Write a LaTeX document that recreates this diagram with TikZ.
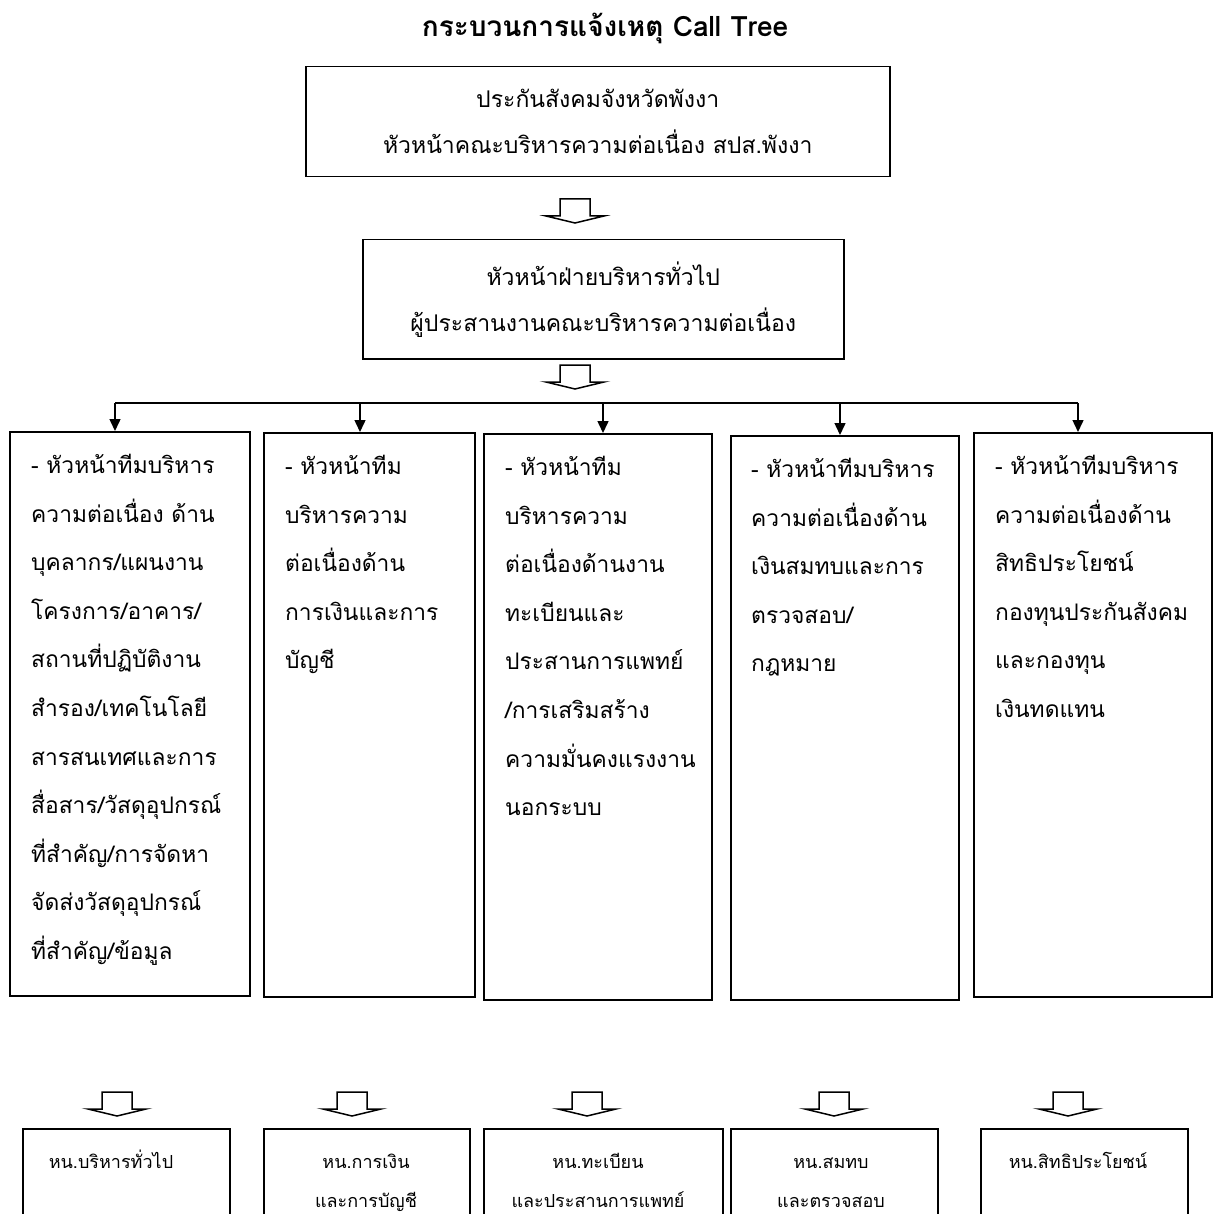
\documentclass[tikz,border=0pt]{standalone}
\usepackage{fontspec}
\newfontfamily\thaifont[Script=Thai]{Loma}
\usetikzlibrary{positioning,arrows.meta}

\tikzset{
  hollowdown/.pic = {
    \draw[line width=1.5pt, line join=miter]
      (-15,0) -- (15,0) -- (15,17) -- (29,17) -- (0,24) -- (-29,17) -- (-15,17) -- cycle;
  }
}

\begin{document}
\begin{tikzpicture}[x=1pt, y=-1pt,
  every node/.style = {font=\thaifont},
  frame/.style = {draw, line width=1.5pt, anchor=north west, inner sep=0pt},
  headtext/.style = {align=center, font=\thaifont\fontsize{23}{46}\selectfont},
  teamtext/.style = {align=left, inner sep=0pt, font=\thaifont\fontsize{22.8}{48.6}\selectfont},
  subtext/.style = {align=center, inner sep=0pt, anchor=base, font=\thaifont\fontsize{18}{39}\selectfont},
  feed/.style = {line width=1.5pt, -{Triangle[width=11pt,length=12pt]}}]

  \useasboundingbox (0,0) rectangle (1213,1214);
  \clip (0,0) rectangle (1213,1214);

  \node[font=\thaifont\bfseries\fontsize{28}{31}\selectfont] (title) at (605,28) {กระบวนการแจ้งเหตุ Call Tree};

  % top of the tree
  \node[frame, headtext, minimum width=584pt, minimum height=110pt] (office) at (305,66)
    {ประกันสังคมจังหวัดพังงา\\หัวหน้าคณะบริหารความต่อเนื่อง สปส.พังงา};
  \node[frame, headtext, minimum width=481pt, minimum height=119pt] (admin) at (362,239)
    {หัวหน้าฝ่ายบริหารทั่วไป\\ผู้ประสานงานคณะบริหารความต่อเนื่อง};
  \pic at (575,199) {hollowdown};
  \pic at (575,365) {hollowdown};

  % team heads
  \node[frame, minimum width=240pt, minimum height=564pt] (team1) at (9,431) {};
  \node[frame, minimum width=211pt, minimum height=564pt] (team2) at (263,432) {};
  \node[frame, minimum width=228pt, minimum height=566pt] (team3) at (483,433) {};
  \node[frame, minimum width=228pt, minimum height=564pt] (team4) at (730,435) {};
  \node[frame, minimum width=238pt, minimum height=564pt] (team5) at (973,432) {};

  \node[teamtext, below right=23pt and 22pt of team1.north west] (team1text)
    {- หัวหน้าทีมบริหาร\\ความต่อเนื่อง ด้าน\\บุคลากร/แผนงาน\\โครงการ/อาคาร/\\สถานที่ปฏิบัติงาน\\สำรอง/เทคโนโลยี\\สารสนเทศและการ\\สื่อสาร/วัสดุอุปกรณ์\\ที่สำคัญ/การจัดหา\\จัดส่งวัสดุอุปกรณ์\\ที่สำคัญ/ข้อมูล};
  \node[teamtext, below right=23pt and 22pt of team2.north west] (team2text)
    {- หัวหน้าทีม\\บริหารความ\\ต่อเนื่องด้าน\\การเงินและการ\\บัญชี};
  \node[teamtext, below right=23pt and 22pt of team3.north west] (team3text)
    {- หัวหน้าทีม\\บริหารความ\\ต่อเนื่องด้านงาน\\ทะเบียนและ\\ประสานการแพทย์\\/การเสริมสร้าง\\ความมั่นคงแรงงาน\\นอกระบบ};
  \node[teamtext, below right=23pt and 21pt of team4.north west] (team4text)
    {- หัวหน้าทีมบริหาร\\ความต่อเนื่องด้าน\\เงินสมทบและการ\\ตรวจสอบ/\\กฎหมาย};
  \node[teamtext, below right=23pt and 22pt of team5.north west] (team5text)
    {- หัวหน้าทีมบริหาร\\ความต่อเนื่องด้าน\\สิทธิประโยชน์\\กองทุนประกันสังคม\\และกองทุน\\เงินทดแทน};

  \coordinate (bus1) at (115,403);
  \coordinate (bus2) at (360,403);
  \coordinate (bus3) at (603,403);
  \coordinate (bus4) at (840,403);
  \coordinate (bus5) at (1078,403);
  \draw[line width=1.5pt] (bus1) -- (bus5);
  \foreach \i in {1,...,5}
    \draw[feed] (bus\i) -- (bus\i |- team\i.north);

  % section heads
  \pic at (117,1092) {hollowdown};
  \pic at (352,1092) {hollowdown};
  \pic at (587,1092) {hollowdown};
  \pic at (834,1092) {hollowdown};
  \pic at (1068,1092) {hollowdown};

  \node[frame, minimum width=207pt, minimum height=150pt] (sub1) at (22,1128) {};
  \node[frame, minimum width=206pt, minimum height=150pt] (sub2) at (263,1128) {};
  \node[frame, minimum width=239pt, minimum height=150pt] (sub3) at (483,1128) {};
  \node[frame, minimum width=207pt, minimum height=150pt] (sub4) at (730,1128) {};
  \node[frame, minimum width=207pt, minimum height=150pt] (sub5) at (980,1128) {};

  % base sits on the last line
  \node[subtext] (sub1text) at (111,1168) {หน.บริหารทั่วไป};
  \node[subtext] (sub2text) at (366,1207) {หน.การเงิน\\และการบัญชี};
  \node[subtext] (sub3text) at (598,1207) {หน.ทะเบียน\\และประสานการแพทย์};
  \node[subtext] (sub4text) at (831,1207) {หน.สมทบ\\และตรวจสอบ};
  \node[subtext] (sub5text) at (1078,1168) {หน.สิทธิประโยชน์};
\end{tikzpicture}
\end{document}
